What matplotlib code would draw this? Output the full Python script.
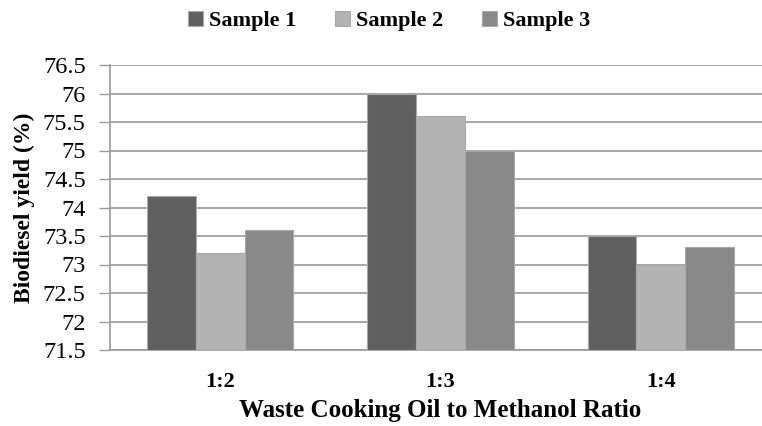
import matplotlib
matplotlib.use("Agg")
import matplotlib.pyplot as plt
import numpy as np

categories = ["1:2", "1:3", "1:4"]
series_names = ["Sample 1", "Sample 2", "Sample 3"]
sample1 = [74.2, 76.0, 73.5]
sample2 = [73.2, 75.6, 73.0]
sample3 = [73.6, 75.0, 73.3]
yticks = [71.5, 72, 72.5, 73, 73.5, 74, 74.5, 75, 75.5, 76, 76.5]
ytick_labels = ["71.5", "72", "72.5", "73", "73.5", "74", "74.5", "75", "75.5", "76", "76.5"]

colors = ["#5f5f5f", "#b3b3b3", "#898989"]

plt.rcParams['font.family'] = ['Liberation Serif', 'DejaVu Serif']

fig = plt.figure(figsize=(7.62, 4.26), dpi=100)
ax = fig.add_axes([110/762, 1-350/426, 661/762, 285/426])

x = np.arange(len(categories))
w = 0.221
for i, (vals, name) in enumerate(zip([sample1, sample2, sample3], series_names)):
    ax.bar(x + (i-1)*w, np.array(vals) - 71.5, bottom=71.5, width=w, color=colors[i],
           edgecolor="#a8a8a8", linewidth=0.8, label=name, zorder=3)

ax.set_xlim(-0.5, 2.5)
ax.set_ylim(71.5, 76.5)
ax.set_yticks(yticks)
ax.set_yticklabels(ytick_labels, fontsize=17.5)
ax.set_xticks(x)
ax.set_xticklabels(categories, fontsize=16, fontweight="bold")
ax.tick_params(axis="x", length=0, pad=16)
ax.tick_params(axis="y", length=8, width=1, color="#999999", pad=9.5)
ax.yaxis.grid(True, color="#999999", linewidth=1.2, zorder=0)
ax.set_axisbelow(True)
for s in ["top", "right"]:
    ax.spines[s].set_visible(False)
ax.spines["left"].set_color("#999999")
ax.spines["bottom"].set_color("#999999")
ax.spines["left"].set_linewidth(1.2)
ax.spines["bottom"].set_linewidth(1.2)

ax.set_ylabel("Biodiesel yield (%)", fontsize=17, fontweight="bold")
ax.yaxis.set_label_coords(-86/661, 0.5)
ax.set_xlabel("Waste Cooking Oil to Methanol Ratio", fontsize=18, fontweight="bold")
ax.xaxis.set_label_coords(0.5 - 0/661, -61/285)
ax.xaxis.label.set_verticalalignment("center")
ax.yaxis.label.set_verticalalignment("center")

fig.legend(loc="center", bbox_to_anchor=(389/762, 1-21/426), ncol=3, frameon=False,
           handlelength=0.68, handleheight=0.68, columnspacing=1.75,
           handletextpad=0.25, prop={"size": 16, "weight": "bold"})

fig.savefig("out.png", dpi=100)
